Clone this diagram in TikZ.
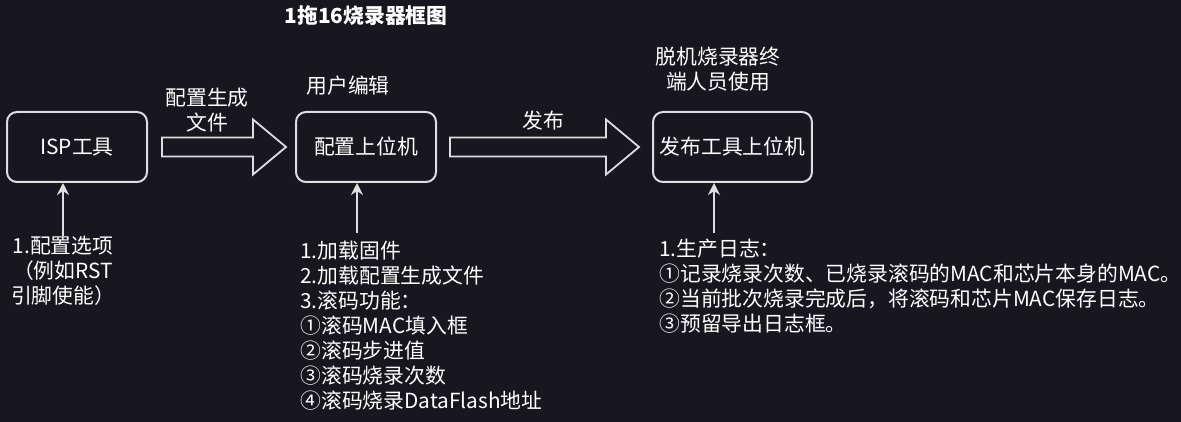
\documentclass[tikz,border=0pt]{standalone}
\usepackage{fontspec}
\setmainfont{Noto Sans CJK SC}
\usepackage{xcolor}
\usepackage{tikz}
\usetikzlibrary{positioning, calc, arrows.meta}
\definecolor{bgdark}{RGB}{24,22,30}
\definecolor{edgegray}{RGB}{222,222,222}
\tikzstyle{toolbox} = [rectangle, rounded corners=5pt, minimum width=70pt, minimum height=35pt, align=center, draw=edgegray, line width=1pt]
\tikzstyle{note} = [align=left, inner sep=0pt]
\tikzstyle{bigarrow} = [draw=edgegray, line width=0.9pt, fill=bgdark]
\tikzstyle{arrow} = [draw=edgegray, line width=0.8pt, -{Stealth[length=6pt,width=6pt]}]

\begin{document}
\begin{tikzpicture}[x=0.5pt, y=-0.5pt, font=\fontsize{10.4}{12.5}\selectfont, every node/.style={text=white}]
\fill[bgdark] (0,0) rectangle (1181,422);
\useasboundingbox (0,0) rectangle (1181,422);

\node (title) at (366,16) {\bfseries 1拖16烧录器框图};
\node (isp) [toolbox] at (77,147) {ISP工具};
\node (cfg) [toolbox, right=73.5pt of isp] {配置上位机};
\node (pub) [toolbox, minimum width=79pt, right=107.5pt of cfg] {发布工具上位机};

\node (genlbl) [align=center] at (207,110) {配置生成\\文件};
\node (publbl) at (543,121) {发布};
\node (userlbl) at (348,86) {用户编辑};
\node (endlbl) [align=center] at (718,69) {脱机烧录器终\\端人员使用};

\node (opt) [note, align=center, anchor=north] at (63,236) {1.配置选项\\（例如RST\\引脚使能）};
\node (feat) [note, anchor=north west] at (300,241) {1.加载固件\\2.加载配置生成文件\\3.滚码功能：\\①滚码MAC填入框\\②滚码步进值\\③滚码烧录次数\\④滚码烧录DataFlash地址};
\node (log) [note, anchor=north west] at (659,239) {1.生产日志：\\①记录烧录次数、已烧录滚码的MAC和芯片本身的MAC。\\②当前批次烧录完成后，将滚码和芯片MAC保存日志。\\③预留导出日志框。};

% block arrows between the tools
\coordinate (s1) at ($(isp.east)+(14,0)$);
\coordinate (t1) at ($(cfg.west)+(-9,0)$);
\draw [bigarrow] ($(s1)+(0,-9.5)$) -- ($(t1)+(-33,-9.5)$) -- ($(t1)+(-33,-27.5)$) -- (t1) -- ($(t1)+(-33,27.5)$) -- ($(t1)+(-33,9.5)$) -- ($(s1)+(0,9.5)$) -- cycle;
\coordinate (s2) at ($(cfg.east)+(13,0)$);
\coordinate (t2) at ($(pub.west)+(-13,0)$);
\draw [bigarrow] ($(s2)+(0,-9.5)$) -- ($(t2)+(-33,-9.5)$) -- ($(t2)+(-33,-27.5)$) -- (t2) -- ($(t2)+(-33,27.5)$) -- ($(t2)+(-33,9.5)$) -- ($(s2)+(0,9.5)$) -- cycle;

% notes feeding the tools
\coordinate (featin) at ($(feat.north west)+(57,-8)$);
\coordinate (login) at ($(log.north west)+(55,-6)$);
\draw [arrow] (opt.north) -- (opt.north |- isp.south);
\draw [arrow] (featin) -- (featin |- cfg.south);
\draw [arrow] (login) -- (login |- pub.south);
\end{tikzpicture}
\end{document}
